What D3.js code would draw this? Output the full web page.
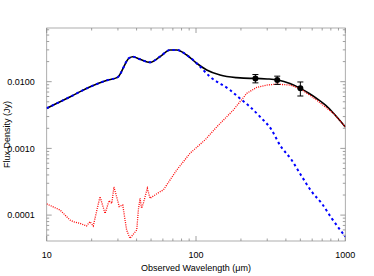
<!DOCTYPE html>
<html>
<head>
<meta charset="utf-8">
<script src="https://cdn.jsdelivr.net/npm/d3@7"></script>
<style>
    body { margin: 0; background: #fff; }
    text { font-family: "Liberation Sans", Arial, sans-serif; fill: #000; }
</style>
</head>
<body>
<div id="chart"></div>
<script>
// total model (black solid)
var totalLambda = [10, 14.5, 18.9, 25.7, 29.8, 35.6, 37.7, 42.2, 49.2, 57.4, 67.0, 74.3, 86.7, 101, 118, 145, 187, 230, 250, 300, 353, 426, 497, 570, 643, 740, 831, 1000];
var totalFlux = [0.0040, 0.0060, 0.0081, 0.0106, 0.0116, 0.0226, 0.0237, 0.0217, 0.0195, 0.0237, 0.0299, 0.0299, 0.0251, 0.0189, 0.0150, 0.0126, 0.0115, 0.0112, 0.0112, 0.0110, 0.0106, 0.0094, 0.0080, 0.0067, 0.0056, 0.0044, 0.0034, 0.0021];

// warm / AGN component (blue dashed)
var agnLambda = [10, 14.5, 18.9, 25.7, 29.8, 35.6, 37.7, 42.2, 49.2, 57.4, 67.0, 74.3, 86.7, 101, 124, 169, 197, 230, 268, 321, 365, 437, 511, 596, 695, 811, 1000];
var agnFlux = [0.0040, 0.0060, 0.0081, 0.0106, 0.0116, 0.0226, 0.0237, 0.0217, 0.0195, 0.0237, 0.0299, 0.0299, 0.0251, 0.0189, 0.0119, 0.0075, 0.0056, 0.0042, 0.0030, 0.00189, 0.00112, 0.00067, 0.00038, 0.000224, 0.000150, 0.0000895, 0.0000475];

// cold dust component (red dotted)
var coldLambda = [10, 12.3, 14.3, 15.1, 16.7, 18.5, 19.5, 20.5, 22.75, 24.6, 26.2, 27.3, 28.2, 29.4, 30.6, 32.3, 34.3, 36.1, 40.1, 41.1, 42.2, 43.2, 44.4, 47.2, 49.2, 57.4, 60.4, 74.3, 91.2, 115, 138, 178, 219, 255, 297, 347, 426, 497, 643, 831, 1000];
var coldFlux = [0.000147, 0.000119, 0.0000845, 0.0000797, 0.0000753, 0.0000687, 0.0000797, 0.0000687, 0.000189, 0.000106, 0.000165, 0.000150, 0.000264, 0.000189, 0.000134, 0.000142, 0.0000598, 0.0000449, 0.0000598, 0.000119, 0.000179, 0.000127, 0.000150, 0.000252, 0.000179, 0.000224, 0.000238, 0.000474, 0.000845, 0.00134, 0.00211, 0.00377, 0.0067, 0.0082, 0.0089, 0.0092, 0.0089, 0.0079, 0.0053, 0.00336, 0.00211];

// observed photometry
var obsLambda = [250, 350, 500];
var obsFlux = [0.0112, 0.0106, 0.0080];
var obsErr = [0.0016, 0.0015, 0.0019];

var xTickValues = [10, 100, 1000];
var xTickLabels = ["10", "100", "1000"];
var yTickValues = [0.0001, 0.001, 0.01];
var yTickLabels = ["0.0001", "0.0010", "0.0100"];

function init() {
    var width = 374;
    var height = 276;
    var left = 46.7, right = 345.3, top = 28, bottom = 241;

    var x = d3.scaleLog().domain([10, 1000]).range([left, right]);
    var y = d3.scaleLog().domain([4.09e-5, 0.0638]).range([bottom, top]);

    var svg = d3.select("#chart")
        .append("svg")
        .attr("width", width)
        .attr("height", height);

    svg.append("clipPath").attr("id", "plot")
        .append("rect")
        .attr("x", left).attr("y", top)
        .attr("width", right - left).attr("height", bottom - top);

    // frame
    svg.append("rect")
        .attr("x", left).attr("y", top)
        .attr("width", right - left).attr("height", bottom - top)
        .attr("fill", "none")
        .attr("stroke", "#999")
        .attr("stroke-width", 0.8);

    // ticks: every 1..9 multiple, majors at powers of ten
    var xTicks = x.ticks();
    var yTicks = y.ticks().filter(function (v) { return v >= 4.09e-5 && v <= 0.0638; });
    function isMajor(v) { return Math.abs(Math.log10(v) - Math.round(Math.log10(v))) < 1e-6; }

    var tickColor = "#888";
    var g = svg.append("g").attr("stroke", tickColor).attr("stroke-width", 0.8);

    g.selectAll(".xb").data(xTicks).enter().append("line")
        .attr("x1", function (d) { return x(d); }).attr("x2", function (d) { return x(d); })
        .attr("y1", bottom).attr("y2", function (d) { return bottom - (isMajor(d) ? 5 : 2.5); });
    g.selectAll(".xt").data(xTicks).enter().append("line")
        .attr("x1", function (d) { return x(d); }).attr("x2", function (d) { return x(d); })
        .attr("y1", top).attr("y2", function (d) { return top + (isMajor(d) ? 5 : 2.5); });
    g.selectAll(".yl").data(yTicks).enter().append("line")
        .attr("y1", function (d) { return y(d); }).attr("y2", function (d) { return y(d); })
        .attr("x1", left).attr("x2", function (d) { return left + (isMajor(d) ? 5 : 2.5); });
    g.selectAll(".yr").data(yTicks).enter().append("line")
        .attr("y1", function (d) { return y(d); }).attr("y2", function (d) { return y(d); })
        .attr("x1", right).attr("x2", function (d) { return right - (isMajor(d) ? 5 : 2.5); });

    // tick labels
    svg.selectAll(".xlab").data(xTickValues).enter().append("text")
        .attr("x", function (d) { return x(d); })
        .attr("y", bottom + 17)
        .attr("text-anchor", "middle")
        .attr("font-size", 9)
        .text(function (d, i) { return xTickLabels[i]; });
    svg.selectAll(".ylab").data(yTickValues).enter().append("text")
        .attr("x", left - 12)
        .attr("y", function (d) { return y(d) + 3.2; })
        .attr("text-anchor", "end")
        .attr("font-size", 9)
        .text(function (d, i) { return yTickLabels[i]; });

    // axis titles
    svg.append("text")
        .attr("x", (left + right) / 2)
        .attr("y", 271)
        .attr("text-anchor", "middle")
        .attr("font-size", 9)
        .text("Observed Wavelength (\u03bcm)");
    svg.append("text")
        .attr("transform", "translate(10," + ((top + bottom) / 2) + ") rotate(-90)")
        .attr("text-anchor", "middle")
        .attr("font-size", 9)
        .text("Flux Density (Jy)");

    var plot = svg.append("g").attr("clip-path", "url(#plot)");

    var smooth = d3.line()
        .x(function (d) { return x(d[0]); })
        .y(function (d) { return y(d[1]); })
        .curve(d3.curveMonotoneX);
    var straight = d3.line()
        .x(function (d) { return x(d[0]); })
        .y(function (d) { return y(d[1]); });

    plot.append("path")
        .attr("d", smooth(d3.zip(totalLambda, totalFlux)))
        .attr("fill", "none")
        .attr("stroke", "#000")
        .attr("stroke-width", 1.6);

    plot.append("path")
        .attr("d", smooth(d3.zip(agnLambda, agnFlux)))
        .attr("fill", "none")
        .attr("stroke", "#0000ff")
        .attr("stroke-width", 2)
        .attr("stroke-dasharray", "2.5,3");

    plot.append("path")
        .attr("d", straight(d3.zip(coldLambda, coldFlux)))
        .attr("fill", "none")
        .attr("stroke", "#ff0000")
        .attr("stroke-width", 1.3)
        .attr("stroke-dasharray", "1,1.2");

    // data points with error bars
    var pts = svg.selectAll(".pt").data(d3.range(obsLambda.length)).enter().append("g");
    pts.append("line")
        .attr("x1", function (i) { return x(obsLambda[i]); })
        .attr("x2", function (i) { return x(obsLambda[i]); })
        .attr("y1", function (i) { return y(obsFlux[i] + obsErr[i]); })
        .attr("y2", function (i) { return y(obsFlux[i] - obsErr[i]); })
        .attr("stroke", "#000").attr("stroke-width", 1);
    [1, -1].forEach(function (s) {
        pts.append("line")
            .attr("x1", function (i) { return x(obsLambda[i]) - 3; })
            .attr("x2", function (i) { return x(obsLambda[i]) + 3; })
            .attr("y1", function (i) { return y(obsFlux[i] + s * obsErr[i]); })
            .attr("y2", function (i) { return y(obsFlux[i] + s * obsErr[i]); })
            .attr("stroke", "#000").attr("stroke-width", 1);
    });
    pts.append("circle")
        .attr("cx", function (i) { return x(obsLambda[i]); })
        .attr("cy", function (i) { return y(obsFlux[i]); })
        .attr("r", 3)
        .attr("fill", "#000");
}

window.onload = init;
</script>
</body>
</html>
